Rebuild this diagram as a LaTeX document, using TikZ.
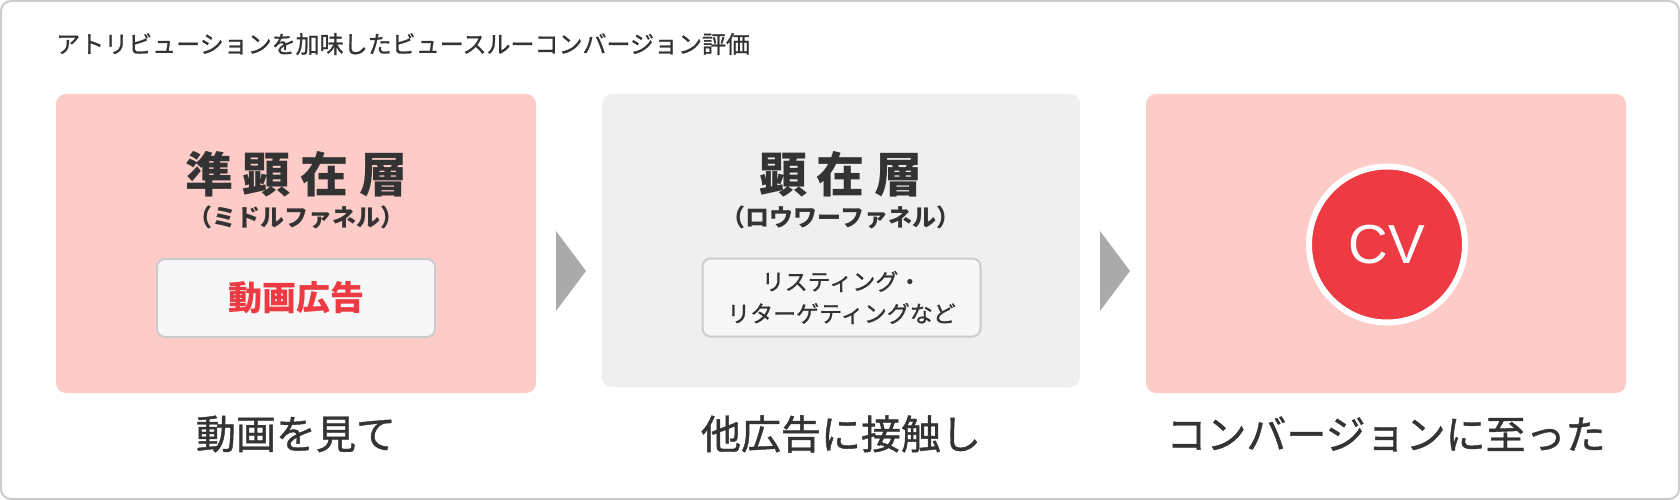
\documentclass[tikz,border=0pt]{standalone}
\usepackage{fontspec}
\setmainfont{Noto Sans CJK JP}
\newfontfamily\medfont[FakeBold=1]{Noto Sans CJK JP}
\newfontfamily\cvfont{Liberation Sans}
\usepackage{xcolor}

\definecolor{inkgray}{HTML}{333333}
\definecolor{pinkbg}{HTML}{FDCCC8}
\definecolor{graybg}{HTML}{EFEFEF}
\definecolor{cardbg}{HTML}{F7F7F7}
\definecolor{cardline}{HTML}{CCCCCC}
\definecolor{cvred}{HTML}{EE3A43}
\definecolor{chevgray}{HTML}{AAAAAA}

\newcommand\fsz[1]{\fontsize{#1pt}{#1pt}\selectfont}

\begin{document}
\begin{tikzpicture}[x=1pt, y=-1pt,
    panel/.style={rectangle, rounded corners=10pt, inner sep=0pt,
      minimum width=480pt, minimum height=299pt},
    card/.style={rectangle, rounded corners=8pt, fill=cardbg, draw=cardline,
      line width=2pt, minimum width=278pt, minimum height=78pt, inner sep=0pt},
    head/.style={font=\bfseries\fsz{48}, text=inkgray, inner sep=0pt},
    sub/.style={font=\bfseries\fsz{24}, text=inkgray, inner sep=0pt},
    caption/.style={font=\medfont\fsz{40}, text=inkgray, inner sep=0pt},
    chevron/.style={fill=chevgray}]
    \useasboundingbox (0,0) rectangle (1680,500);
    \draw[cardline, line width=2pt, rounded corners=10pt] (1,1) rectangle (1679,499);
    \node[anchor=west, font=\medfont\fsz{24}, text=inkgray, inner sep=0pt] (title) at (56,44)
      {アトリビューションを加味したビュースルーコンバージョン評価};

    % panels
    \node[panel, fill=pinkbg] (mid) at (296,243.5) {};
    \node[panel, fill=graybg, minimum width=478pt, minimum height=293pt] (low) at (841,240.5) {};
    \node[panel, fill=pinkbg] (conv) at (1386,243.5) {};

    % chevrons
    \coordinate (c1) at (556,231);
    \coordinate (c2) at (1100,231);
    \fill[chevron] (c1) -- ++(30,40) -- ++(-30,40) -- cycle;
    \fill[chevron] (c2) -- ++(30,40) -- ++(-30,40) -- cycle;

    % middle funnel
    \node[head] (h1) at (296,174.5) {準\kern10pt顕\kern10pt在\kern10pt層};
    \node[sub] (s1) at (296,217) {（ミドルファネル）};
    \node[card, font=\bfseries\fsz{34}, text=cvred] (k1) at (296,298) {動画広告};

    % lower funnel
    \node[head] (h2) at (841,174.5) {顕\kern10pt在\kern10pt層};
    \node[sub] (s2) at (841,217) {（ロウワーファネル）};
    \node[card, font=\medfont\fontsize{23pt}{32pt}\selectfont, text=inkgray, align=center] (k2) at (841.5,297.5)
      {リスティング・\\リターゲティングなど};

    % conversion
    \node[circle, fill=cvred, draw=white, line width=6pt, minimum size=156pt, inner sep=0pt,
      font=\cvfont\fsz{55}, text=white] (cv) at (1387,244.5) {CV};

    \node[caption] (lab1) at (296,434) {動画を見て};
    \node[caption] (lab2) at (841,434) {他広告に接触し};
    \node[caption] (lab3) at (1386,434) {コンバージョンに至った};
\end{tikzpicture}
\end{document}
